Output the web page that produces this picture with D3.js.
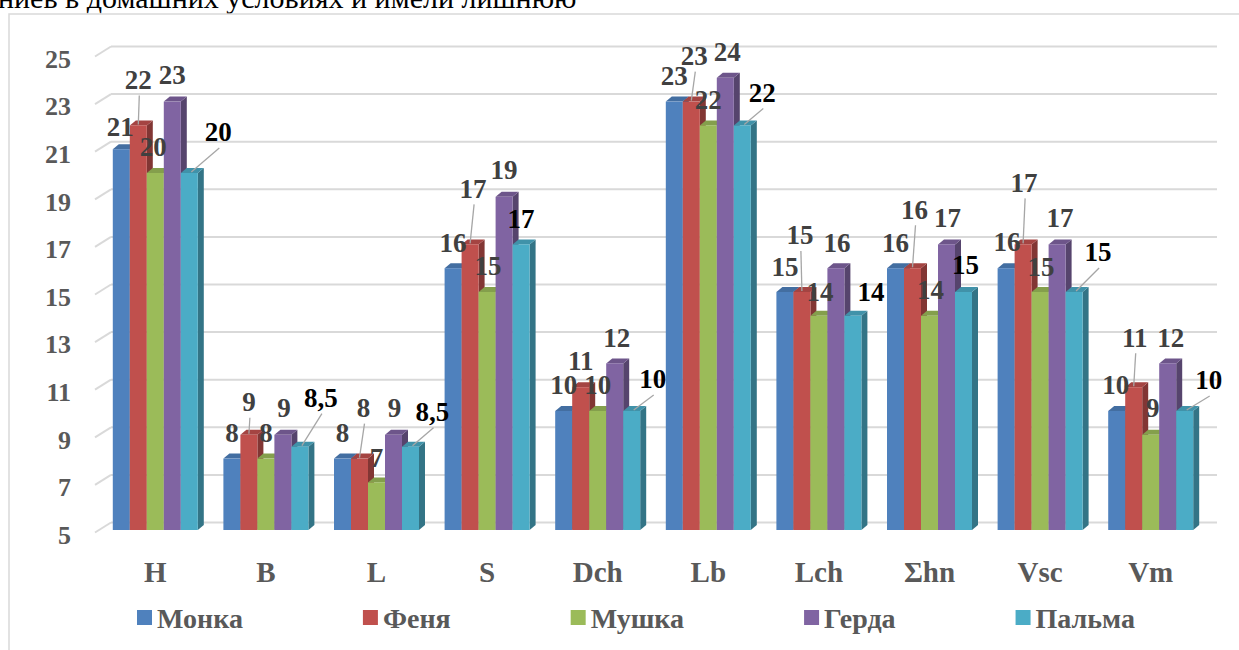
<!DOCTYPE html>
<html>
<head>
  <meta charset="utf-8">
  <title>3D column chart</title>
  <style>
  body { margin: 0; background: #fff; overflow: hidden; }
  svg { display: block; font-family: "Liberation Serif", "Times New Roman", serif; }
  .grid { stroke: #d9d9d9; stroke-width: 2; fill: none; }
  .tick text { fill: #595959; font-weight: bold; }
  .lbl { font-weight: bold; font-size: 27px; text-anchor: middle; }
  .leader { stroke: #a6a6a6; stroke-width: 1.3; }
  .legend text { fill: #595959; font-weight: bold; font-size: 28px; }
  </style>
</head>
<body>
<script src="https://d3js.org/d3.v7.min.js"></script>
<script>
// data
var categories = ["H", "B", "L", "S", "Dch", "Lb", "Lch", "\u03A3hn", "Vsc", "Vm"];
var series = ["Монка", "Феня", "Мушка", "Герда", "Пальма"];
var monka  = [21, 8, 8, 16, 10, 23, 15, 16, 16, 10];
var fenya  = [22, 9, 8, 17, 11, 23, 15, 16, 17, 11];
var mushka = [20, 8, 7, 15, 10, 22, 14, 14, 15, 9];
var gerda  = [23, 9, 9, 19, 12, 24, 16, 17, 17, 12];
var palma  = [20, 8.5, 8.5, 17, 10, 22, 14, 15, 15, 10];
var yTicks = [5, 7, 9, 11, 13, 15, 17, 19, 21, 23, 25];
var colors = ["#4f81bd", "#c0504d", "#9bbb59", "#8064a2", "#4bacc6"];

var values = [monka, fenya, mushka, gerda, palma];

// where Excel had dragged the data labels: [dx, dy, leader?] from the top centre of a bar
var labelShift = [
  [[-1,-23],[0,-46,1],[-2,-26],[0,-27],[29,-41,1]],
  [[0,-26],[0,-33,1],[0,-26],[1,-27],[21,-49,1]],
  [[0,-26],[4,-51,1],[0,-25],[1,-27],[22,-35,1]],
  [[0,-26],[3,-56,1],[1,-26],[0,-27],[0,-26]],
  [[0,-26],[0,-27],[0,-26],[2,-26],[21,-32,1]],
  [[0,-26],[3,-46,1],[0,-26],[2,-26],[20,-33,1]],
  [[0,-25],[-2,-57,1],[1,-24],[1,-26],[18,-24]],
  [[0,-26],[2,-59,1],[1,-26],[1,-27],[2,-27]],
  [[1,-27],[1,-62,1],[1,-25],[3,-27],[24,-40,1]],
  [[-1,-26],[1,-50,1],[2,-27],[3,-26],[24,-31,1]]
];

var width = 1239, height = 650;
var svg = d3.select("body").append("svg")
    .attr("width", width)
    .attr("height", height);

// text of the page above the chart, cut by the screenshot
svg.append("text")
    .attr("x", -2).attr("y", 8)
    .style("font-size", "30px")
    .style("fill", "#000")
    .text("ниев в домашних условиях и имели лишнюю");

// chart frame
svg.append("rect")
    .attr("x", 9).attr("y", 14)
    .attr("width", 1300).attr("height", 700)
    .attr("fill", "none")
    .attr("stroke", "#d9d9d9")
    .attr("stroke-width", 1.5);

var x0 = d3.scaleBand().domain(categories).range([100, 1206])
    .paddingInner(0.2315).paddingOuter(0.1157);
var x1 = d3.scaleBand().domain(series).range([0, x0.bandwidth()]);
var y = d3.scaleLinear().domain([5, 25]).range([530, 54]);

var back = {dx: 11, dy: -7.5};   // back wall offset
var depth = {dx: 6, dy: -5};     // column depth

// walls
var grid = svg.append("g");
grid.selectAll("line.back")
    .data(yTicks)
  .enter().append("line")
    .attr("class", "grid")
    .attr("x1", 100 + back.dx).attr("x2", 1206 + back.dx)
    .attr("y1", function(d) { return y(d) + back.dy; })
    .attr("y2", function(d) { return y(d) + back.dy; });
grid.selectAll("line.side")
    .data(yTicks)
  .enter().append("line")
    .attr("class", "grid")
    .attr("x1", 95).attr("x2", 100 + back.dx)
    .attr("y1", function(d) { return y(d) + 2.5; })
    .attr("y2", function(d) { return y(d) + back.dy; });

// y axis
var yAxis = svg.append("g")
    .attr("transform", "translate(79,5)")
    .call(d3.axisLeft(y).tickValues(yTicks).tickSize(0).tickPadding(8))
    .attr("font-family", null).attr("font-size", null);
yAxis.select(".domain").remove();
yAxis.selectAll("text").style("font-size", "26px");

// x axis
var xAxis = svg.append("g")
    .attr("transform", "translate(0,553)")
    .call(d3.axisBottom(x0).tickSize(0).tickPadding(8))
    .attr("font-family", null).attr("font-size", null);
xAxis.select(".domain").remove();
xAxis.selectAll("text").style("font-size", "29px");

// columns
var rows = categories.map(function(c, i) {
  return series.map(function(s, j) { return {cat: c, ci: i, s: s, si: j, v: values[j][i]}; });
});

var groups = svg.append("g").selectAll("g")
    .data(rows)
  .enter().append("g")
    .attr("transform", function(d) { return "translate(" + x0(d[0].cat) + ",0)"; });

var bars = groups.selectAll("g")
    .data(function(d) { return d; })
  .enter().append("g");

bars.append("polygon")  // side
    .attr("fill", function(d) { return d3.color(colors[d.si]).darker(1.1); })
    .attr("points", function(d) {
      var l = x1(d.s) + x1.bandwidth(), t = y(d.v), b = y(5);
      return [[l, t], [l + depth.dx, t + depth.dy], [l + depth.dx, b + depth.dy], [l, b]].join(" ");
    });
bars.append("polygon")  // top
    .attr("fill", function(d) { return d3.color(colors[d.si]).darker(0.45); })
    .attr("points", function(d) {
      var l = x1(d.s), r = l + x1.bandwidth(), t = y(d.v);
      return [[l, t], [r, t], [r + depth.dx, t + depth.dy], [l + depth.dx, t + depth.dy]].join(" ");
    });
bars.append("rect")  // front
    .attr("x", function(d) { return x1(d.s); })
    .attr("y", function(d) { return y(d.v); })
    .attr("width", x1.bandwidth())
    .attr("height", function(d) { return y(5) - y(d.v); })
    .attr("fill", function(d) { return colors[d.si]; });

// data labels
var fmt = function(v) { return String(v).replace(".", ","); };
var labels = svg.append("g");
rows.forEach(function(row) {
  row.forEach(function(d) {
    var sh = labelShift[d.ci][d.si];
    var bx = x0(d.cat) + x1(d.s) + x1.bandwidth() / 2, by = y(d.v);
    var lx = bx + sh[0], ly = by + sh[1];
    if (sh[2]) {
      labels.append("line")
          .attr("class", "leader")
          .attr("x1", lx + 1).attr("y1", ly + 16)
          .attr("x2", bx + (sh[0] > 10 ? 2 : 0)).attr("y2", by - 1);
    }
    labels.append("text")
        .attr("class", "lbl")
        .attr("x", lx).attr("y", ly)
        .attr("dy", "0.35em")
        .style("fill", d.si === 4 ? "#000" : "#404040")
        .text(fmt(d.v));
  });
});

// legend
var legend = svg.append("g").attr("class", "legend");
var lx = 137;
series.forEach(function(s, j) {
  var item = legend.append("g").attr("transform", "translate(" + lx + ",0)");
  item.append("rect")
      .attr("x", 0).attr("y", 610)
      .attr("width", 15).attr("height", 15)
      .attr("fill", colors[j]);
  var t = item.append("text")
      .attr("x", 20).attr("y", 628)
      .text(s);
  lx += 20 + t.node().getComputedTextLength() + 120;
});
</script>
</body>
</html>
